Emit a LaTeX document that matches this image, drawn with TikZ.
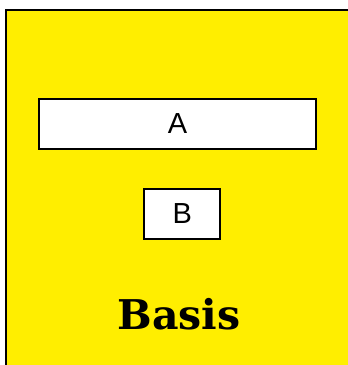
\documentclass[tikz,border=0pt]{standalone}
\usepackage{fontspec}
\setmainfont{Liberation Sans}
\newfontfamily\basisfont{DejaVu Serif}
\definecolor{clusteryellow}{HTML}{FFEE00}
\begin{document}
\begin{tikzpicture}[x=1pt,y=-1pt,
  boxnode/.style={draw=black,fill=white,line width=2pt,inner sep=0pt,font=\fontsize{29}{29}\selectfont},
  clusterbox/.style={draw=black,fill=clusteryellow,line width=2pt}]
\useasboundingbox (0,0) rectangle (348,365);
\begin{scope}
\clip (0,0) rectangle (348,365);
\draw[clusterbox] (6,10) rectangle (370,390);
\end{scope}
\node[boxnode,minimum width=277pt,minimum height=50pt] (a) at (177.5,123.5) {A};
\node[boxnode,minimum width=76pt,minimum height=49.5pt] (b) at (182.25,214) {B};
\node[inner sep=0pt,anchor=base,font=\basisfont\bfseries\fontsize{41}{41}\selectfont] (basis) at (179,329) {Basis};
\end{tikzpicture}
\end{document}
